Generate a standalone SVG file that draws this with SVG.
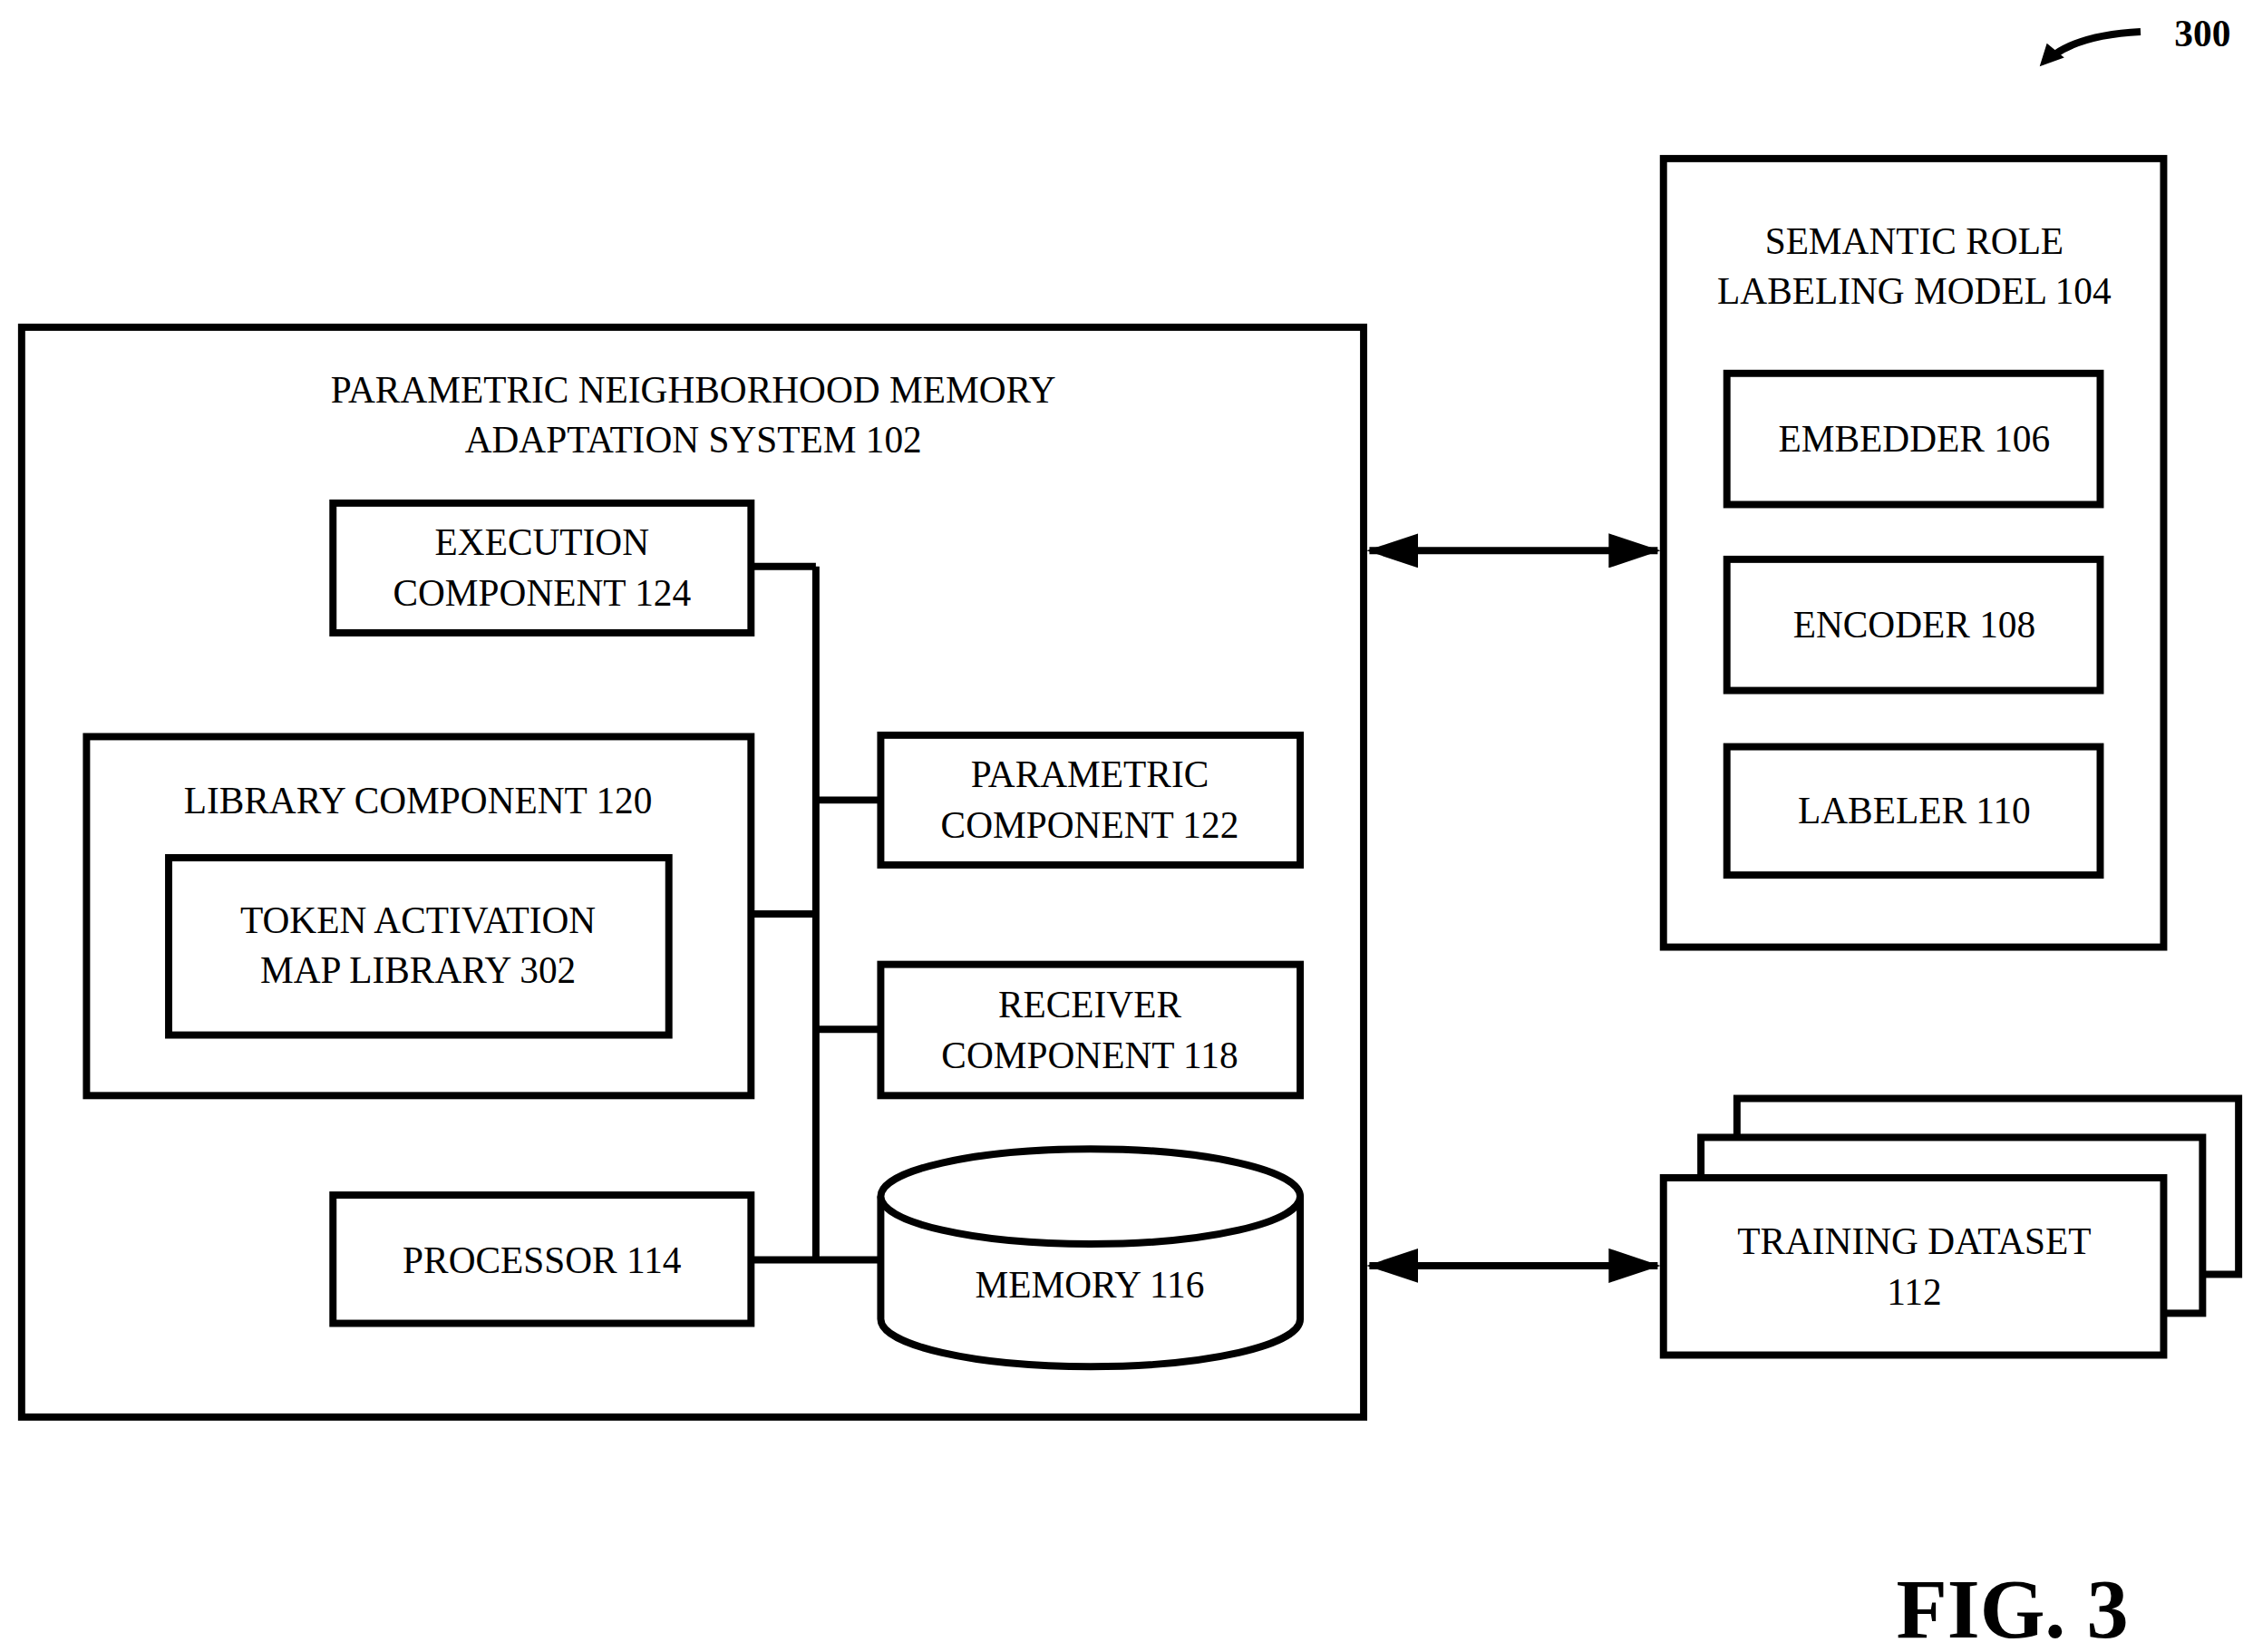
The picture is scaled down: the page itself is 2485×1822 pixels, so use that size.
<svg xmlns="http://www.w3.org/2000/svg" width="2485" height="1822" viewBox="0 0 2485 1822">
<style>
.b{fill:#fff;stroke:#000;stroke-width:5}
.l{fill:none;stroke:#000;stroke-width:5}
text{font-family:"Liberation Serif","Times New Roman",serif;font-size:26px;text-anchor:middle;fill:#000}
</style>
<defs>
<marker id="ah" viewBox="0 0 36 24" refX="34" refY="12" markerWidth="36" markerHeight="24" markerUnits="userSpaceOnUse" orient="auto-start-reverse"><path d="M0,0L36,12L0,24z" fill="#000"/></marker>
</defs>
<rect width="2485" height="1822" fill="#fff"/>
<g transform="scale(1.5899)">
<g id="system102"><rect class="b" x="15" y="227" width="931" height="756"/><text x="481" y="279">PARAMETRIC NEIGHBORHOOD MEMORY</text><text x="481" y="314">ADAPTATION SYSTEM 102</text></g>
<g id="connectors">
<path class="l" d="M566,393V874M521,393H566M566,555H611M521,634H566M566,714H611M521,874H611"/>
<path class="l" d="M950,382H1150" marker-start="url(#ah)" marker-end="url(#ah)"/>
<path class="l" d="M950,878H1150" marker-start="url(#ah)" marker-end="url(#ah)"/>
<path class="l" d="M1485,22Q1445,24 1425,38"/><path d="M1415,46L1420,30L1432,40z" fill="#000"/>
</g>
<g id="exec124"><rect class="b" x="231" y="349" width="290" height="90"/><text x="376" y="385">EXECUTION</text><text x="376" y="420">COMPONENT 124</text></g>
<g id="lib120"><rect class="b" x="60" y="511" width="461" height="249"/><text x="290" y="564">LIBRARY COMPONENT 120</text></g>
<g id="tam302"><rect class="b" x="117" y="595" width="347" height="123"/><text x="290" y="647">TOKEN ACTIVATION</text><text x="290" y="682">MAP LIBRARY 302</text></g>
<g id="proc114"><rect class="b" x="231" y="829" width="290" height="89"/><text x="376" y="883">PROCESSOR 114</text></g>
<g id="param122"><rect class="b" x="611" y="510" width="291" height="90"/><text x="756" y="546">PARAMETRIC</text><text x="756" y="581">COMPONENT 122</text></g>
<g id="recv118"><rect class="b" x="611" y="669" width="291" height="91"/><text x="756" y="706">RECEIVER</text><text x="756" y="741">COMPONENT 118</text></g>
<g id="mem116"><path class="b" d="M611,830V915A145.5,33 0 0 0 902,915V830"/><ellipse class="b" cx="756.5" cy="830" rx="145.5" ry="33"/><text x="756" y="900">MEMORY 116</text></g>
<g id="srl104"><rect class="b" x="1154" y="110" width="347" height="547"/><text x="1328" y="176">SEMANTIC ROLE</text><text x="1328" y="211">LABELING MODEL 104</text></g>
<g id="emb106"><rect class="b" x="1198" y="259" width="259" height="91"/><text x="1328" y="313">EMBEDDER 106</text></g>
<g id="enc108"><rect class="b" x="1198" y="388" width="259" height="91"/><text x="1328" y="442">ENCODER 108</text></g>
<g id="lab110"><rect class="b" x="1198" y="518" width="259" height="89"/><text x="1328" y="571">LABELER 110</text></g>
<g id="train112"><rect class="b" x="1205" y="762" width="348" height="122"/><rect class="b" x="1180" y="789" width="348" height="122"/><rect class="b" x="1154" y="817" width="347" height="123"/><text x="1328" y="870">TRAINING DATASET</text><text x="1328" y="905">112</text></g>
<text x="1528" y="32" style="font-weight:bold;font-size:26px">300</text>
<text x="1396" y="1136" style="font-weight:bold;font-size:58px">FIG. 3</text>
</g>
</svg>
